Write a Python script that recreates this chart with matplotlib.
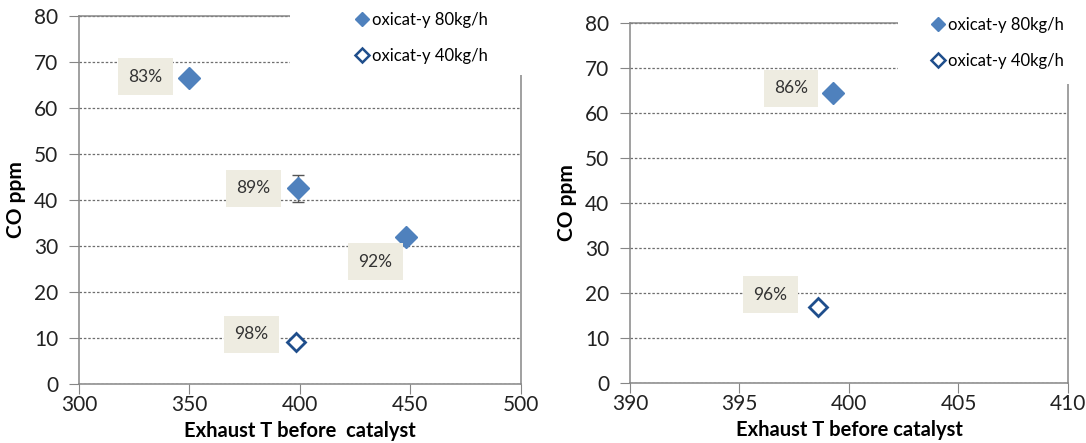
import matplotlib.pyplot as plt
from matplotlib.patches import Rectangle
from matplotlib.lines import Line2D

plt.rcParams['font.family'] = ['Lato', 'DejaVu Sans']

# left panel: temperature sweep
temp_80 = [350, 399, 448]
co_80 = [66.5, 42.5, 32.0]
err_80 = [0, 3.0, 0]
temp_40 = [398]
co_40 = [9.2]
labels_left = ['83%', '89%', '92%', '98%']
label_pos_left = [(330, 66.8), (379, 42.5), (434, 26.6), (378, 10.8)]

# right panel: zoom around 400 C
temp_80_r = [399.25]
co_80_r = [64.4]
temp_40_r = [398.6]
co_40_r = [17.0]
labels_right = ['86%', '96%']
label_pos_right = [(397.35, 65.5), (396.4, 19.6)]

blue = '#4F81BD'
navy = '#1F4E8C'
spine_c = '#868686'
grid_c = '#6e6e6e'
box_c = '#EEECE1'


def style_axes(ax, xlim, xticks, xlabel):
    ax.set_xlim(*xlim)
    ax.set_ylim(0, 80)
    ax.set_xticks(xticks)
    ax.set_yticks(range(0, 81, 10))
    for s in ax.spines.values():
        s.set_color(spine_c)
        s.set_linewidth(1.1)
    ax.tick_params(direction='out', length=7, color=spine_c, labelsize=15,
                   labelcolor='#222222')
    ax.tick_params(axis='x', pad=1)
    ax.tick_params(axis='y', pad=8)
    ax.yaxis.grid(True, linestyle=(0, (2, 1.5)), color=grid_c, linewidth=0.9)
    ax.set_axisbelow(True)
    ax.set_ylabel('CO ppm', fontsize=15, fontweight='bold', labelpad=6)
    ax.set_xlabel(xlabel, fontsize=14.5, fontweight='bold', labelpad=4)


def pct_labels(ax, texts, positions):
    for t, (x, y) in zip(texts, positions):
        ax.text(x, y, t, ha='center', va='center', fontsize=12.5, color='#333333', zorder=4,
                bbox=dict(boxstyle='square,pad=0.6', facecolor=box_c, edgecolor='none'))


def legend_patch(ax, x0, y0, lx, ly):
    # white area behind the legend hides the grid and spines
    ax.add_patch(Rectangle((x0, y0), 1.2 - x0, 1.2 - y0, transform=ax.transAxes,
                           facecolor='white', edgecolor='none', clip_on=False, zorder=6))
    handles = [
        Line2D([], [], linestyle='none', marker='D', markersize=7, color=blue),
        Line2D([], [], linestyle='none', marker='D', markersize=7, markerfacecolor='white',
               markeredgecolor=navy, markeredgewidth=1.8),
    ]
    leg = ax.legend(handles, ['oxicat-y 80kg/h', 'oxicat-y 40kg/h'], loc='upper left',
                    bbox_to_anchor=(lx, ly), frameon=False, fontsize=12,
                    handlelength=0.6, handletextpad=0.3, labelspacing=1.2,
                    borderaxespad=0, borderpad=0)
    leg.set_zorder(7)


fig = plt.figure(figsize=(10.86, 4.43), dpi=100)
ax1 = fig.add_axes([0.0727, 0.1332, 0.407, 0.8307])
ax2 = fig.add_axes([0.5801, 0.1354, 0.4033, 0.8126])

style_axes(ax1, (300, 500), [300, 350, 400, 450, 500], 'Exhaust T before  catalyst')
ax1.errorbar(temp_80, co_80, yerr=err_80, fmt='D', markersize=11, color=blue,
             ecolor='#555555', elinewidth=1, capsize=4, zorder=3)
ax1.plot(temp_40, co_40, 'D', markersize=9, markerfacecolor='white',
         markeredgecolor=navy, markeredgewidth=2, zorder=3)
pct_labels(ax1, labels_left, label_pos_left)
legend_patch(ax1, 0.477, 0.84, 0.629, 1.012)

style_axes(ax2, (390, 410), [390, 395, 400, 405, 410], 'Exhaust T before catalyst')
ax2.plot(temp_80_r, co_80_r, 'D', markersize=11, color=blue, zorder=3)
ax2.plot(temp_40_r, co_40_r, 'D', markersize=9, markerfacecolor='white',
         markeredgecolor=navy, markeredgewidth=2, zorder=3)
pct_labels(ax2, labels_right, label_pos_right)
legend_patch(ax2, 0.612, 0.83, 0.692, 1.018)

fig.savefig('out.png', dpi=100)
